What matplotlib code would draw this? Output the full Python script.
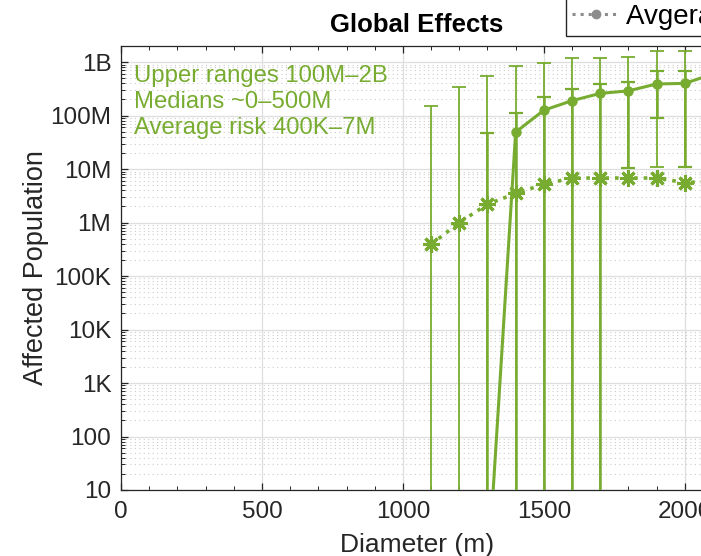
import numpy as np
import matplotlib
matplotlib.use('Agg')
import matplotlib.pyplot as plt
from matplotlib.lines import Line2D
from matplotlib.ticker import FixedLocator, MultipleLocator, LogLocator, NullFormatter

# values (population, log scale)
diam = np.array([1100, 1200, 1300, 1400, 1500, 1600, 1700, 1800, 1900, 2000, 2100])
upper_range = np.array([1.5e8, 3.4e8, 5.6e8, 8.4e8, 9.6e8, 1.2e9, 1.2e9, 1.24e9, 1.6e9, 1.6e9, 1.8e9])
lower_range = np.array([0, 0, 0, 0, 0, 0, 0, 1.07e7, 1.1e7, 1.1e7, 1.2e7])
median = np.array([0, 0, 0.2, 4.9e7, 1.26e8, 1.9e8, 2.6e8, 2.9e8, 3.9e8, 4.0e8, 6.0e8])
median_hi = np.array([0, 0, 4.7e7, 1.1e8, 2.2e8, 3.1e8, 3.9e8, 4.2e8, 6.8e8, 6.8e8, 8.0e8])
median_lo = np.array([0, 0, 0, 0, 0, 0, 0, 1.07e7, 8.9e7, 1.1e7, 1.2e7])
average = np.array([3.9e5, 1.0e6, 2.2e6, 3.5e6, 5.2e6, 6.8e6, 6.8e6, 6.8e6, 6.8e6, 5.6e6, 5.9e6])

ytick_vals = [10, 100, 1e3, 1e4, 1e5, 1e6, 1e7, 1e8, 1e9]
ytick_labels = ['10', '100', '1K', '10K', '100K', '1M', '10M', '100M', '1B']
xtick_vals = [0, 500, 1000, 1500, 2000]
notes = ['Upper ranges 100M\u20132B', 'Medians ~0\u2013500M', 'Average risk 400K\u20137M']

GREEN = '#77AC30'
INK = '#262626'
FLOOR = 1e-3  # stand-in for zero on the log axis

plt.rcParams['font.family'] = ['Liberation Sans', 'DejaVu Sans']

fig = plt.figure(figsize=(7.01, 5.56), dpi=100)
ax = fig.add_axes([121 / 701, 1 - 490 / 556, 592 / 701, 444 / 556])
ax.set_yscale('log')

# outer (upper range) bars
lo_r = np.where(lower_range > 0, lower_range, FLOOR)
ax.errorbar(diam, upper_range, yerr=[upper_range - lo_r, np.zeros_like(upper_range)],
            fmt='none', ecolor=GREEN, elinewidth=1.3, capsize=5, capthick=1.3, zorder=3)

# inner bars around the median
has_med = median_hi > 0
lo_m = np.where(median_lo > 0, median_lo, FLOOR)
ax.errorbar(diam[has_med], median[has_med],
            yerr=[median[has_med] - lo_m[has_med], median_hi[has_med] - median[has_med]],
            fmt='none', ecolor=GREEN, elinewidth=1.8, capsize=5, capthick=1.6, zorder=3)

med_plot = np.where(median > 0, median, np.nan)
ax.plot(diam, med_plot, '-', color=GREEN, lw=2.2, marker='.', ms=13, zorder=4)
ax.plot(diam, average, ':', color=GREEN, lw=2.6, marker=(8, 2, 0), ms=12, mew=2.2, zorder=4)

ax.set_xlim(0, 2100)
ax.set_ylim(10, 2e9)
ax.yaxis.set_major_locator(FixedLocator(ytick_vals))
ax.set_yticklabels(ytick_labels)
ax.yaxis.set_minor_locator(LogLocator(base=10, subs=np.arange(2, 10)))
ax.yaxis.set_minor_formatter(NullFormatter())
ax.set_xticks(xtick_vals)
ax.xaxis.set_minor_locator(MultipleLocator(100))

ax.grid(which='major', color='#dedede', lw=0.9, zorder=0)
ax.grid(which='minor', axis='y', color='#cccccc', lw=0.8, linestyle=(0, (1, 3)), zorder=0)
ax.set_axisbelow(True)

ax.tick_params(which='both', direction='in', top=True, right=True, colors=INK, labelsize=17.5)
ax.tick_params(which='major', length=5, width=0.9)
ax.tick_params(which='minor', length=3, width=0.7)
ax.tick_params(axis='y', which='major', pad=7)
ax.tick_params(axis='x', which='major', pad=8)
for s in ax.spines.values():
    s.set_color(INK)
    s.set_linewidth(0.9)

ax.set_xlabel('Diameter (m)', fontsize=19, color=INK, labelpad=7)
ax.set_ylabel('Affected Population', fontsize=19.5, color=INK, labelpad=1)
ax.set_title('Global Effects', fontsize=18.5, fontweight='bold', color='black', pad=10)

ax.text(0.022, 0.958, '\n'.join(notes), transform=ax.transAxes, ha='left', va='top',
        color=GREEN, fontsize=17.2, linespacing=1.24)

proxy = Line2D([], [], color='#8c8c8c', ls=':', lw=2.2, marker='o', ms=6)
fig.legend([proxy], ['Avgerage risk'], loc='upper left', bbox_to_anchor=(566 / 701, 1 + 2 / 556),
           fontsize=20, frameon=True, fancybox=False, edgecolor=INK, framealpha=1,
           handlelength=1.7, borderpad=0.22, handletextpad=0.25, borderaxespad=0)

fig.savefig('out.png', dpi=100)
